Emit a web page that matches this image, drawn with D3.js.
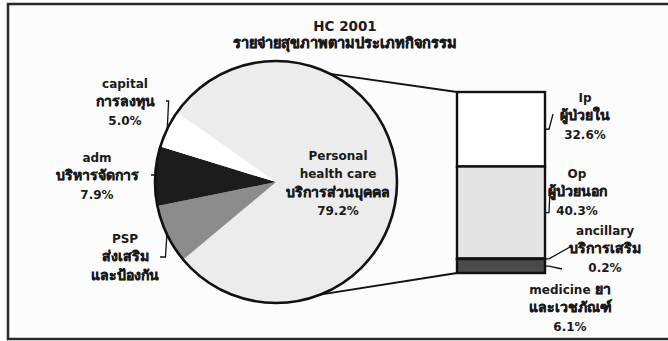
<!DOCTYPE html>
<html><head><meta charset="utf-8">
<script src="https://cdn.jsdelivr.net/npm/d3@7"></script>
<style>
html,body{margin:0;padding:0;background:#fff;}
text{font-family:Tahoma,"DejaVu Sans","Noto Sans",sans-serif;fill:#1a1a1a;}
</style></head>
<body>
<svg id="chart" width="668" height="341"></svg>
<script>
// ---- data ----
const titleLines = ["HC 2001", "รายจ่ายสุขภาพตามประเภทกิจกรรม"];
const pieCategories = ["Personal health care", "PSP", "adm", "capital"];
const pieValues = [79.2, 7.9, 7.9, 5.0];
const pieLabels = [
  ["Personal", "health care", "บริการส่วนบุคคล", "79.2%"],
  ["PSP", "ส่งเสริม", "และป้องกัน"],
  ["adm", "บริหารจัดการ", "7.9%"],
  ["capital", "การลงทุน", "5.0%"]
];
const barCategories = ["Ip", "Op", "ancillary", "medicine"];
const barValues = [32.6, 40.3, 0.2, 6.1];
const barLabels = [
  ["Ip", "ผู้ป่วยใน", "32.6%"],
  ["Op", "ผู้ป่วยนอก", "40.3%"],
  ["ancillary", "บริการเสริม", "0.2%"],
  ["medicine ยา", "และเวชภัณฑ์", "6.1%"]
];

// ---- layout / style ----
const svg = d3.select("#chart");
const pieColors = ["#ececec", "#8c8c8c", "#1c1c1c", "#ffffff"];
const barColors = ["#ffffff", "#e4e4e4", "#111111", "#4a4a4a"];
const cx = 276, cy = 182, R = 121;
const deg = Math.PI / 180;
const thaiRe = /[\u0E00-\u0E7F]+/g;

// write a text line, using a larger, stroked run for Thai script
function writeLine(sel, str, latinSize, thaiSize, thaiStroke) {
  const parts = [];
  let last = 0, m;
  thaiRe.lastIndex = 0;
  while ((m = thaiRe.exec(str)) !== null) {
    if (m.index > last) parts.push({ t: str.slice(last, m.index), thai: false });
    parts.push({ t: m[0], thai: true });
    last = m.index + m[0].length;
  }
  if (last < str.length) parts.push({ t: str.slice(last), thai: false });
  parts.forEach(p => {
    const ts = sel.append("tspan").text(p.t)
      .attr("font-size", p.thai ? thaiSize : latinSize);
    if (p.thai) ts.attr("stroke", "#1a1a1a").attr("stroke-width", thaiStroke);
  });
}

// frame
svg.append("rect").attr("x", 8).attr("y", 4).attr("width", 700).attr("height", 335)
  .attr("fill", "#fcfcfc").attr("stroke", "#2a2a2a").attr("stroke-width", 2.5);

// title
svg.selectAll("text.title").data(titleLines).enter().append("text")
  .attr("class", "title")
  .attr("x", 345).attr("y", (d, i) => 25 + i * 17).attr("dy", "0.35em")
  .attr("text-anchor", "middle").attr("font-weight", "bold")
  .each(function (d) { writeLine(d3.select(this), d, 13.5, 14.5, 0.55); });

// pie
const pie = d3.pie().sort(null).startAngle(-55 * deg).endAngle(305 * deg);
const arcs = pie(pieValues);
const arc = d3.arc().innerRadius(0).outerRadius(R);
const g = svg.append("g").attr("transform", `translate(${cx},${cy})`);
g.selectAll("path.slice").data(arcs).enter().append("path")
  .attr("class", "slice")
  .attr("d", arc).attr("fill", (d, i) => pieColors[i]).attr("stroke", "none");
g.append("circle").attr("r", R).attr("fill", "none").attr("stroke", "#111").attr("stroke-width", 2.6);

// bar
const barX = 457, barW = 88;
const y = d3.scaleLinear().domain([0, d3.sum(barValues)]).range([92, 273]);
const cum = d3.cumsum(barValues);
const barData = barValues.map((v, i) => ({ v, i, y0: cum[i] - v, y1: cum[i] }));

// connector lines
function pt(a) { return [cx + R * Math.sin(a), cy - R * Math.cos(a)]; }
const pTop = pt(26.6 * deg), pBot = pt(158.7 * deg);
svg.append("line").attr("x1", pTop[0]).attr("y1", pTop[1]).attr("x2", barX).attr("y2", y(0))
  .attr("stroke", "#111").attr("stroke-width", 1.8);
svg.append("line").attr("x1", pBot[0]).attr("y1", pBot[1]).attr("x2", barX).attr("y2", y(d3.sum(barValues)))
  .attr("stroke", "#111").attr("stroke-width", 1.8);

svg.selectAll("rect.seg").data(barData).enter().append("rect")
  .attr("class", "seg")
  .attr("x", barX).attr("width", barW)
  .attr("y", d => y(d.y0)).attr("height", d => Math.max(0.8, y(d.y1) - y(d.y0)))
  .attr("fill", d => barColors[d.i])
  .attr("stroke", "#111").attr("stroke-width", 2.4);

// pie labels
const pieLabelPos = [
  { x: 338, y: 154 },
  { x: 125, y: 237 },
  { x: 97, y: 156 },
  { x: 125, y: 82 }
];
pieLabels.forEach((lines, k) => {
  svg.append("g").selectAll("text").data(lines).enter().append("text")
    .attr("x", pieLabelPos[k].x).attr("y", (d, i) => pieLabelPos[k].y + i * 18.5)
    .attr("dy", "0.35em").attr("text-anchor", "middle").attr("font-weight", "bold")
    .each(function (d) { writeLine(d3.select(this), d, 12, 14, 0.45); });
});

// pie leader lines (from label to slice middle on the rim)
const leaderStart = { 1: [160, 257], 2: [151, 175], 3: [166, 101] };
[1, 2, 3].forEach(k => {
  const a = (arcs[k].startAngle + arcs[k].endAngle) / 2;
  const e = pt(a);
  const s = leaderStart[k];
  svg.append("path")
    .attr("d", `M${s[0]},${s[1]} L${(s[0] + e[0]) / 2 + 2},${s[1]} L${e[0]},${e[1]}`)
    .attr("fill", "none").attr("stroke", "#111").attr("stroke-width", 1.3);
});

// bar labels
const barLabelPos = [
  { x: 585, y: 96 },
  { x: 577, y: 172 },
  { x: 605, y: 229 },
  { x: 570, y: 288 }
];
barLabels.forEach((lines, k) => {
  svg.append("g").selectAll("text").data(lines).enter().append("text")
    .attr("x", barLabelPos[k].x).attr("y", (d, i) => barLabelPos[k].y + i * 18.5)
    .attr("dy", "0.35em").attr("text-anchor", "middle").attr("font-weight", "bold")
    .each(function (d) { writeLine(d3.select(this), d, 12, 14, 0.45); });
});

// bar leader lines
const barLeaderEnd = [[553, 114], [550, 190], [570, 247], [562, 269]];
barData.forEach((d, k) => {
  const ym = (y(d.y0) + y(d.y1)) / 2;
  const e = barLeaderEnd[k];
  svg.append("path")
    .attr("d", `M${barX + barW},${ym} L${barX + barW + 4},${ym} L${e[0]},${e[1]}`)
    .attr("fill", "none").attr("stroke", "#111").attr("stroke-width", 1.3);
});
</script>
</body></html>
